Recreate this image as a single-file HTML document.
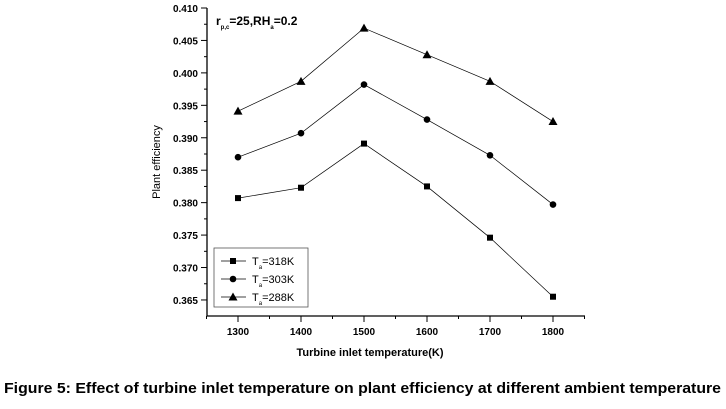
<!DOCTYPE html>
<html><head><meta charset="utf-8"><style>
body{margin:0;background:#fff;width:726px;height:404px;overflow:hidden;font-family:"Liberation Sans",Arial,sans-serif}
</style></head><body>
<svg width="726" height="404" id="c" font-family="Liberation Sans, Arial, sans-serif">
<text x="4" y="393" font-size="14.5" font-weight="bold" textLength="717" lengthAdjust="spacingAndGlyphs">Figure 5: Effect of turbine inlet temperature on plant efficiency at different ambient temperature</text>
<text x="370" y="356" text-anchor="middle" font-size="11" font-weight="bold">Turbine inlet temperature(K)</text>
<text transform="translate(160,162) rotate(-90)" text-anchor="middle" font-size="11">Plant efficiency</text>
<text x="216" y="25" font-size="12" font-weight="bold">r<tspan font-size="6" dy="4">p,c</tspan><tspan dy="-4">=25,RH</tspan><tspan font-size="6" dy="4">a</tspan><tspan dy="-4">=0.2</tspan></text>
<g id="axes"></g><g id="series"></g>
<g>
<rect x="214" y="248" width="94" height="59" fill="#fff" stroke="#555" stroke-width="0.8"/>
<g id="leg"></g>
</g>
</svg>
<script>
const categories=[1300,1400,1500,1600,1700,1800];
const labels=["318K","303K","288K"];
const s318=[0.3807,0.3823,0.3891,0.3825,0.3746,0.3655];
const s303=[0.3870,0.3907,0.3982,0.3928,0.3873,0.3797];
const s288=[0.3941,0.3987,0.4069,0.4028,0.3987,0.3925];
const yTicks=[0.365,0.370,0.375,0.380,0.385,0.390,0.395,0.400,0.405,0.410];
const xTicks=[1300,1400,1500,1600,1700,1800];
const NS="http://www.w3.org/2000/svg";
const X=v=>238+(v-1300)*0.63;
const Y=v=>8+(0.410-v)/0.005*32.44;
function mk(t,a,p){const e=document.createElementNS(NS,t);for(const k in a)e.setAttribute(k,a[k]);p.appendChild(e);return e;}
const ax=document.getElementById('axes');
const yl=mk('line',{x1:207,y1:8,x2:207,y2:316,stroke:'#000','stroke-width':1.3},ax);


const xl=mk('line',{x1:207,y1:316,x2:585,y2:316,stroke:'#000','stroke-width':1.3},ax);


yTicks.forEach((v,i)=>{const y=Y(v);mk('line',{x1:201,y1:y,x2:207,y2:y,stroke:'#000'},ax);
 if(i<yTicks.length-1)mk('line',{x1:204,y1:y-16.2,x2:207,y2:y-16.2,stroke:'#000'},ax);
 const t=mk('text',{x:198,y:y+4,'text-anchor':'end','font-size':10,'font-weight':'bold'},ax);t.textContent=v.toFixed(3);
 
 });
for(let v=1250;v<=1850;v+=50){const x=X(v);mk('line',{x1:x,y1:316,x2:x,y2:v%100==0?322:319,stroke:'#000'},ax);}
xTicks.forEach(v=>{const t=mk('text',{x:X(v),y:335,'text-anchor':'middle','font-size':10,'font-weight':'bold'},ax);t.textContent=v;
 
 });
function marker(k,x,y,p){if(k==0)return mk('rect',{x:x-3,y:y-3,width:6,height:6,fill:'#000'},p);
 if(k==1)return mk('circle',{cx:x,cy:y,r:3.3,fill:'#000'},p);
 return mk('polygon',{points:`${x},${y-4.5} ${x-4.5},${y+3.5} ${x+4.5},${y+3.5}`,fill:'#000'},p);}
const se=document.getElementById('series');
[s318,s303,s288].forEach((d,k)=>{const g=mk('g',{},se);
 
 
 mk('polyline',{points:d.map((v,i)=>X(categories[i])+','+Y(v)).join(' '),fill:'none',stroke:'#000','stroke-width':0.7},g);
 d.forEach((v,i)=>{const m=marker(k,X(categories[i]),Y(v),g);
  
  });});
const lg=document.getElementById('leg');
labels.forEach((l,k)=>{const y=261+k*18;const g=mk('g',{},lg);
 
 
 mk('line',{x1:221,y1:y,x2:246,y2:y,stroke:'#000','stroke-width':0.8},g);marker(k,233,y,g);
 const t=mk('text',{x:252,y:y+4,'font-size':11},g);
 t.innerHTML='T<tspan font-size="6" dy="4">a</tspan><tspan dy="-4">='+l+'</tspan>';});
</script>
</body></html>
